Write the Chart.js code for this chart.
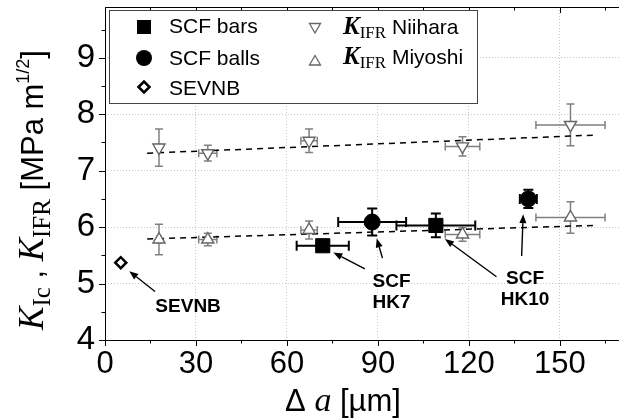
<!DOCTYPE html>
<html>
<head>
<meta charset="utf-8">
<script src="https://cdn.jsdelivr.net/npm/chart.js@4.4.0/dist/chart.umd.min.js"></script>
<style>
  html, body { margin: 0; padding: 0; background: #fff; }
</style>
</head>
<body>
<canvas id="myChart" width="619" height="420"></canvas>
<script>
// crack extension Δa in µm, toughness in MPa m^1/2
var niiharaX = [17.8, 33.9, 67.3, 117.9, 153.5];
var niiharaY = [7.41, 7.31, 7.53, 7.43, 7.81];
var niiharaXErr = [0.6, 3.0, 2.7, 5.7, 11.4];
var niiharaYErr = [0.33, 0.14, 0.21, 0.17, 0.37];

var miyoshiX = [17.8, 33.9, 67.3, 117.9, 153.5];
var miyoshiY = [5.78, 5.78, 5.95, 5.87, 6.17];
var miyoshiXErr = [0.6, 3.0, 2.7, 5.7, 11.4];
var miyoshiYErr = [0.27, 0.11, 0.16, 0.12, 0.28];

var barsX = [71.8, 109.1];
var barsY = [5.67, 6.03];
var barsXErr = [8.6, 13.0];
var barsYErr = [0.06, 0.21];

var ballsX = [88.1, 139.6];
var ballsY = [6.09, 6.50];
var ballsXErr = [11.2, 2.8];
var ballsYErr = [0.24, 0.16];

var sevnbX = [5.2];
var sevnbY = [5.37];

// dashed linear fits
var fitX = [13.9, 161.2];
var fitUpperY = [7.31, 7.63];
var fitLowerY = [5.79, 6.03];

var xTicks = [0, 30, 60, 90, 120, 150];
var yTicks = [4, 5, 6, 7, 8, 9];

// labels and arrows, in data units
var noteText = [['SEVNB'], ['SCF', 'HK7'], ['SCF', 'HK10']];
var noteX = [27.4, 94.5, 138.5];
var noteY = [4.59, 4.85, 4.90];
var arrowFrom = [[16.5, 4.86], [85.7, 5.26], [91.5, 5.45], [129.1, 5.12], [137.4, 5.49]];
var arrowTo = [[8.0, 5.22], [75.3, 5.55], [89.6, 5.80], [112.1, 5.79], [137.9, 6.23]];

var SANS = '"Liberation Sans", Arial, sans-serif';
var SERIF = '"Liberation Serif", "Times New Roman", serif';

function pts(xs, ys) {
  return xs.map(function(x, i) { return { x: x, y: ys[i] }; });
}

function drawRich(ctx, parts, cx, baseY) {
  var total = 0;
  parts.forEach(function(p) { ctx.font = p.font; p.w = ctx.measureText(p.t).width; total += p.w; });
  var x = cx - total / 2;
  parts.forEach(function(p) {
    ctx.font = p.font;
    ctx.fillText(p.t, x, baseY + (p.dy || 0));
    x += p.w;
  });
}

function drawLeft(ctx, parts, x, baseY) {
  parts.forEach(function(p) {
    ctx.font = p.font;
    ctx.fillText(p.t, x, baseY + (p.dy || 0));
    x += ctx.measureText(p.t).width;
  });
}

var errorBars = {
  id: 'errorBars',
  beforeDatasetsDraw: function(chart) {
    var ctx = chart.ctx, xs = chart.scales.x, ys = chart.scales.y;
    chart.data.datasets.forEach(function(ds) {
      if (!ds.errX) return;
      ctx.save();
      ctx.strokeStyle = ds.errColor;
      ctx.lineWidth = ds.errWidth;
      var c = ds.capSize;
      ds.data.forEach(function(p, i) {
        var px = xs.getPixelForValue(p.x), py = ys.getPixelForValue(p.y);
        var x0 = xs.getPixelForValue(p.x - ds.errX[i]), x1 = xs.getPixelForValue(p.x + ds.errX[i]);
        var y0 = ys.getPixelForValue(p.y - ds.errY[i]), y1 = ys.getPixelForValue(p.y + ds.errY[i]);
        ctx.beginPath();
        ctx.moveTo(x0, py); ctx.lineTo(x1, py);
        ctx.moveTo(x0, py - c); ctx.lineTo(x0, py + c);
        ctx.moveTo(x1, py - c); ctx.lineTo(x1, py + c);
        ctx.moveTo(px, y0); ctx.lineTo(px, y1);
        ctx.moveTo(px - c, y0); ctx.lineTo(px + c, y0);
        ctx.moveTo(px - c, y1); ctx.lineTo(px + c, y1);
        ctx.stroke();
      });
      ctx.restore();
    });
  }
};

var decorations = {
  id: 'decorations',
  afterDatasetsDraw: function(chart) {
    var ctx = chart.ctx, xs = chart.scales.x, ys = chart.scales.y, a = chart.chartArea;
    ctx.save();
    // frame and ticks
    ctx.strokeStyle = '#000';
    ctx.lineWidth = 1;
    ctx.beginPath();
    ctx.moveTo(a.left + 0.5, a.top + 0.5); ctx.lineTo(a.left + 0.5, a.bottom + 0.5);
    ctx.moveTo(a.left, a.bottom + 0.5); ctx.lineTo(a.right, a.bottom + 0.5);
    ctx.moveTo(a.left, a.top + 0.5); ctx.lineTo(a.right, a.top + 0.5);
    for (var v = 0; v <= xs.max; v += 15) {
      var px = Math.round(xs.getPixelForValue(v)) + 0.5;
      var len = (v % 30 === 0) ? 6 : 3.5;
      ctx.moveTo(px, a.bottom); ctx.lineTo(px, a.bottom + len);
      ctx.moveTo(px, a.top); ctx.lineTo(px, a.top + len);
    }
    for (var w = 4; w <= ys.max; w += 0.5) {
      var py = Math.round(ys.getPixelForValue(w)) + 0.5;
      var l2 = (w % 1 === 0) ? 6 : 3.5;
      ctx.moveTo(a.left, py); ctx.lineTo(a.left - l2, py);
    }
    ctx.stroke();

    // arrows
    ctx.fillStyle = '#000';
    ctx.lineWidth = 1.4;
    arrowFrom.forEach(function(f, i) {
      var x0 = xs.getPixelForValue(f[0]), y0 = ys.getPixelForValue(f[1]);
      var x1 = xs.getPixelForValue(arrowTo[i][0]), y1 = ys.getPixelForValue(arrowTo[i][1]);
      var ang = Math.atan2(y1 - y0, x1 - x0), hl = 9, hw = 3.5;
      var bx = x1 - hl * Math.cos(ang), by = y1 - hl * Math.sin(ang);
      ctx.beginPath();
      ctx.moveTo(x0, y0); ctx.lineTo(bx, by);
      ctx.stroke();
      ctx.beginPath();
      ctx.moveTo(x1, y1);
      ctx.lineTo(bx + hw * Math.sin(ang), by - hw * Math.cos(ang));
      ctx.lineTo(bx - hw * Math.sin(ang), by + hw * Math.cos(ang));
      ctx.closePath();
      ctx.fill();
    });

    // text labels
    ctx.font = 'bold 19px ' + SANS;
    ctx.textAlign = 'center';
    ctx.textBaseline = 'middle';
    noteText.forEach(function(lines, i) {
      var cx = xs.getPixelForValue(noteX[i]), cy = ys.getPixelForValue(noteY[i]);
      var top = cy - (lines.length - 1) * 21 / 2;
      lines.forEach(function(t, j) { ctx.fillText(t, cx, top + j * 21); });
    });
    ctx.restore();
  },
  afterDraw: function(chart) {
    var ctx = chart.ctx;
    ctx.save();
    ctx.fillStyle = '#000';
    ctx.textAlign = 'left';
    ctx.textBaseline = 'alphabetic';

    // x title
    drawRich(ctx, [
      { t: 'Δ ', font: '31px ' + SANS },
      { t: 'a', font: 'italic 34px ' + SERIF },
      { t: ' [µm]', font: '31px ' + SANS }
    ], 343, 411);

    // y title
    ctx.save();
    ctx.translate(43, 190);
    ctx.rotate(-Math.PI / 2);
    drawRich(ctx, [
      { t: 'K', font: 'italic 35px ' + SERIF },
      { t: 'Ic', font: '25px ' + SERIF, dy: 7 },
      { t: ' , ', font: '31px ' + SANS },
      { t: 'K', font: 'italic 35px ' + SERIF },
      { t: 'IFR', font: '25px ' + SERIF, dy: 7 },
      { t: ' [MPa m', font: '31px ' + SANS },
      { t: '1/2', font: '18px ' + SANS, dy: -14 },
      { t: ']', font: '31px ' + SANS }
    ], 0, 0);
    ctx.restore();

    // legend
    ctx.fillStyle = '#fff';
    ctx.fillRect(109.5, 10.5, 368, 93);
    ctx.strokeStyle = '#444';
    ctx.lineWidth = 1;
    ctx.strokeRect(109.5, 10.5, 368, 93);

    ctx.fillStyle = '#000';
    ctx.fillRect(137, 20, 14, 14);
    ctx.beginPath(); ctx.arc(144, 58, 8, 0, Math.PI * 2); ctx.fill();
    ctx.strokeStyle = '#000';
    ctx.lineWidth = 2.5;
    ctx.beginPath();
    ctx.moveTo(138.5, 87); ctx.lineTo(144, 81.5); ctx.lineTo(149.5, 87); ctx.lineTo(144, 92.5);
    ctx.closePath(); ctx.stroke();

    ctx.strokeStyle = '#666';
    ctx.lineWidth = 1.3;
    ctx.beginPath();
    ctx.moveTo(309.5, 23.5); ctx.lineTo(320.5, 23.5); ctx.lineTo(315, 33); ctx.closePath(); ctx.stroke();
    ctx.beginPath();
    ctx.moveTo(309.5, 65); ctx.lineTo(320.5, 65); ctx.lineTo(315, 55.5); ctx.closePath(); ctx.stroke();

    ctx.font = '21px ' + SANS;
    ctx.fillText('SCF bars', 169, 33);
    ctx.fillText('SCF balls', 169, 65);
    ctx.fillText('SEVNB', 169, 95);
    drawLeft(ctx, [
      { t: 'K', font: 'bold italic 25px ' + SERIF },
      { t: 'IFR', font: '17px ' + SERIF, dy: 4 },
      { t: ' Niihara', font: '21px ' + SANS }
    ], 343, 34);
    drawLeft(ctx, [
      { t: 'K', font: 'bold italic 25px ' + SERIF },
      { t: 'IFR', font: '17px ' + SERIF, dy: 4 },
      { t: ' Miyoshi', font: '21px ' + SANS }
    ], 343, 64);
    ctx.restore();
  }
};

var ctx = document.getElementById('myChart').getContext('2d');
var myChart = new Chart(ctx, {
  type: 'scatter',
  data: {
    datasets: [
      { label: 'SCF bars', data: pts(barsX, barsY), pointStyle: 'rect', pointRadius: 10,
        pointBackgroundColor: '#000', pointBorderColor: '#000', pointBorderWidth: 1,
        errX: barsXErr, errY: barsYErr, errColor: '#000', errWidth: 2, capSize: 5, order: 1 },
      { label: 'SCF balls', data: pts(ballsX, ballsY), pointStyle: 'circle', pointRadius: 8,
        pointBackgroundColor: '#000', pointBorderColor: '#000', pointBorderWidth: 1,
        errX: ballsXErr, errY: ballsYErr, errColor: '#000', errWidth: 2, capSize: 5, order: 1 },
      { label: 'SEVNB', data: pts(sevnbX, sevnbY), pointStyle: 'rectRot', pointRadius: 5.5,
        pointBackgroundColor: '#fff', pointBorderColor: '#000', pointBorderWidth: 2.5, order: 1 },
      { label: 'Niihara', data: pts(niiharaX, niiharaY), pointStyle: 'triangle', pointRotation: 180, pointRadius: 7,
        pointBackgroundColor: '#fff', pointBorderColor: '#666', pointBorderWidth: 1.4,
        errX: niiharaXErr, errY: niiharaYErr, errColor: '#808080', errWidth: 1.5, capSize: 4, order: 2 },
      { label: 'Miyoshi', data: pts(miyoshiX, miyoshiY), pointStyle: 'triangle', pointRadius: 7,
        pointBackgroundColor: '#fff', pointBorderColor: '#666', pointBorderWidth: 1.4,
        errX: miyoshiXErr, errY: miyoshiYErr, errColor: '#808080', errWidth: 1.5, capSize: 4, order: 2 },
      { type: 'line', label: 'fit upper', data: pts(fitX, fitUpperY), showLine: true, fill: false,
        borderColor: '#000', borderWidth: 1.5, borderDash: [6, 5], pointRadius: 0, order: 5 },
      { type: 'line', label: 'fit lower', data: pts(fitX, fitLowerY), showLine: true, fill: false,
        borderColor: '#000', borderWidth: 1.5, borderDash: [6, 5], pointRadius: 0, order: 5 }
    ]
  },
  options: {
    responsive: false,
    animation: false,
    events: [],
    layout: { autoPadding: false, padding: { top: 7, left: 0, right: 0, bottom: 0 } },
    plugins: { legend: { display: false }, tooltip: { enabled: false } },
    scales: {
      x: {
        type: 'linear', min: 0, max: 169.5,
        afterBuildTicks: function(s) { s.ticks = xTicks.map(function(v) { return { value: v }; }); },
        afterFit: function(s) { s.height = 80; s.paddingLeft = 0; s.paddingRight = 0; },
        grid: { color: '#c8c8c8', lineWidth: 1, drawTicks: false },
        border: { display: false, dash: [1, 2] },
        ticks: { color: '#000', padding: 6, maxRotation: 0, font: { family: SANS, size: 31 } }
      },
      y: {
        type: 'linear', min: 4, max: 9.9,
        afterBuildTicks: function(s) { s.ticks = yTicks.map(function(v) { return { value: v }; }); },
        afterFit: function(s) { s.width = 105; s.paddingTop = 0; s.paddingBottom = 0; },
        grid: { color: '#c8c8c8', lineWidth: 1, drawTicks: false },
        border: { display: false, dash: [1, 2] },
        ticks: { color: '#000', padding: 10, font: { family: SANS, size: 33 } }
      }
    }
  },
  plugins: [errorBars, decorations]
});
</script>
</body>
</html>
